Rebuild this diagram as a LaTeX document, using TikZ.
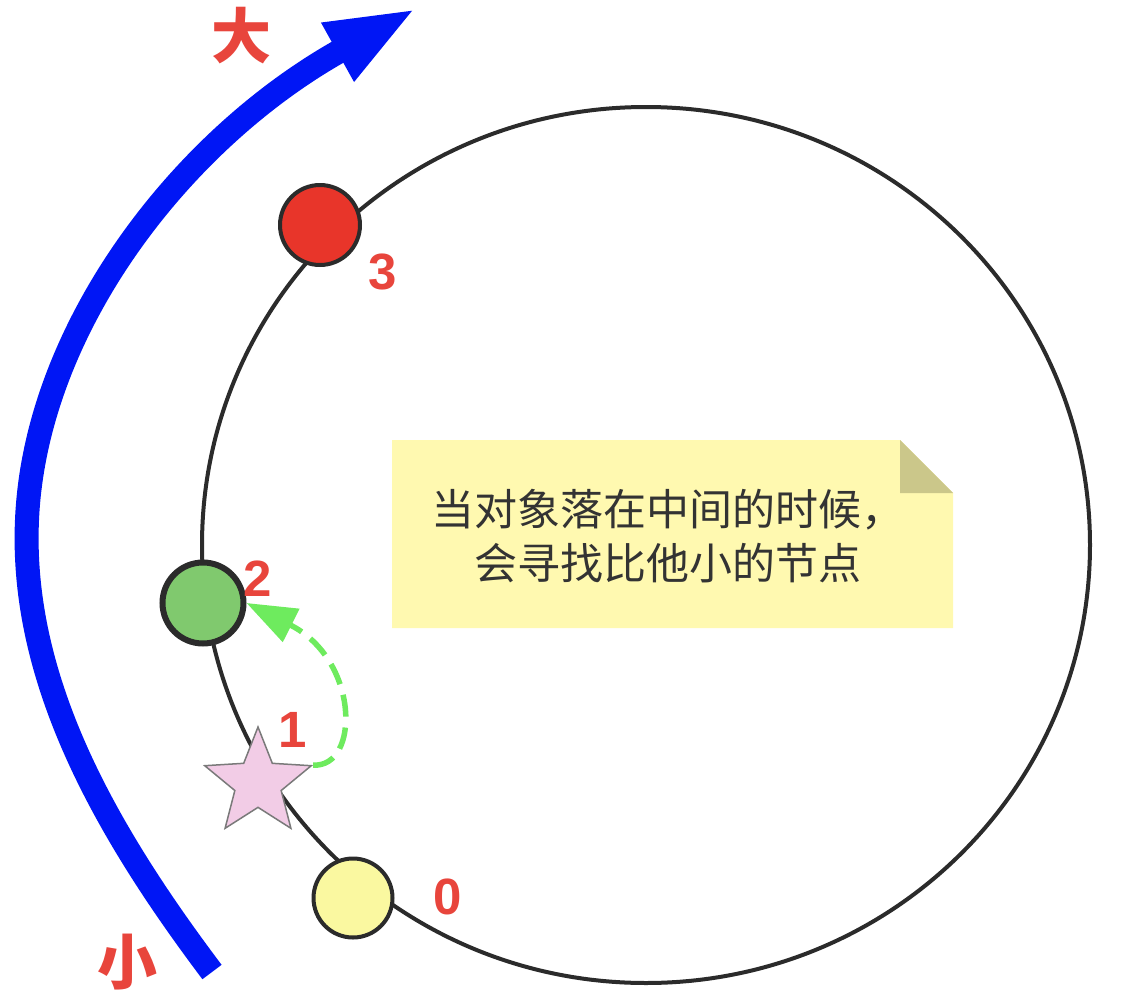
\documentclass[tikz,border=0pt]{standalone}
\usepackage{fontspec}
\setmainfont{Liberation Sans}
\newfontfamily\cjk{Noto Sans CJK SC}
\usetikzlibrary{arrows.meta,shapes.geometric}
\definecolor{ringc}{HTML}{2B2B2B}
\definecolor{redfill}{HTML}{E8352A}
\definecolor{greenfill}{HTML}{80C96E}
\definecolor{yellowfill}{HTML}{FAF8A0}
\definecolor{starfill}{HTML}{F2CCE6}
\definecolor{starline}{HTML}{7A7A7A}
\definecolor{notefill}{HTML}{FFF9B0}
\definecolor{foldc}{HTML}{CBC78A}
\definecolor{textc}{HTML}{333333}
\definecolor{numred}{HTML}{E8453C}
\definecolor{bluec}{HTML}{0016F5}
\definecolor{greenc}{HTML}{6EEB5E}
\begin{document}
\begin{tikzpicture}[x=1pt,y=-1pt,
  dot/.style={circle,draw=ringc,line width=4pt,inner sep=0pt,minimum size=80pt},
  num/.style={text=numred,font=\bfseries\fontsize{51}{51}\selectfont,inner sep=0pt},
  bignum/.style={text=numred,font=\cjk\bfseries\fontsize{60}{60}\selectfont,inner sep=0pt}]
\useasboundingbox (0,0) rectangle (1138,1004);
% ring
\draw[ringc,line width=4pt] (646,545) ellipse [x radius=444pt, y radius=438pt];
% note
\path[fill=notefill] (392,440) -- (900,440) -- (953,493) -- (953,628) -- (392,628) -- cycle;
\path[fill=foldc] (900,440) -- (900,493) -- (953,493) -- cycle;
\node[font=\cjk\fontsize{43}{54}\selectfont,text=textc,align=center,inner sep=0pt] (note) at (668,536) {当对象落在中间的时候，\\会寻找比他小的节点};
% nodes on the ring
\node[dot,fill=redfill,minimum size=80pt] (n3) at (320,225) {};
\node[dot,fill=greenfill,line width=6pt,minimum size=81pt] (n2) at (203,603) {};
\node[dot,fill=yellowfill,minimum size=79pt] (n0) at (353,898) {};
\node[star,star points=5,star point ratio=2.3,minimum size=112pt,inner sep=0pt,fill=starfill,draw=starline,line width=1.5pt] (s) at (258,783) {};
% labels
\node[num] (l3) at (383,272) {3};
\node[num] (l2) at (258,579) {2};
\node[num] (l1) at (293,730) {1};
\node[num] (l0) at (448,897) {0};
\node[bignum] (big) at (241,36) {大};
\node[bignum] (small) at (127,962) {小};
% blue arrow
\coordinate (b0) at (212,972);
\coordinate (b1) at (27,520);
\coordinate (b2) at (417,8);
\draw[bluec,line width=24pt,-{Triangle[length=91pt,width=60pt]}] (b0) .. controls (105,830) and (20,680) .. (b1) .. controls (35,330) and (180,140) .. (b2);
% green dashed arrow
\draw[greenc,line width=5.5pt,dash pattern=on 22pt off 11pt,-{Triangle[length=50pt,width=36pt]}] (s.outer point 5) .. controls (360,768) and (360,660) .. (n2.east);
\end{tikzpicture}
\end{document}
